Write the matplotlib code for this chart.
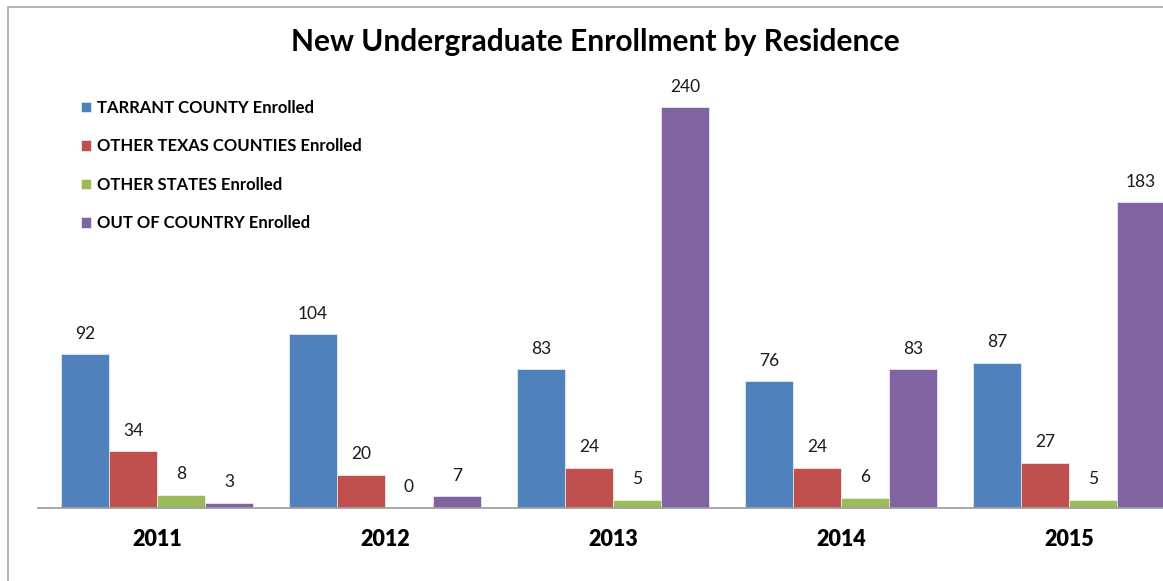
import numpy as np
import matplotlib.pyplot as plt
from matplotlib.patches import Rectangle

plt.rcParams["font.family"] = ["Lato", "DejaVu Sans"]

years = ["2011", "2012", "2013", "2014", "2015"]
tarrant = [92, 104, 83, 76, 87]
other_texas = [34, 20, 24, 24, 27]
other_states = [8, 0, 5, 6, 5]
out_of_country = [3, 7, 240, 83, 183]

series = [
    ("TARRANT COUNTY Enrolled", tarrant, "#4F81BD"),
    ("OTHER TEXAS COUNTIES Enrolled", other_texas, "#C0504D"),
    ("OTHER STATES Enrolled", other_states, "#9BBB59"),
    ("OUT OF COUNTRY Enrolled", out_of_country, "#8064A2"),
]

W, H = 1163, 581
fig = plt.figure(figsize=(W / 100, H / 100), dpi=100)

# chart border (cropped at right/bottom like the source image)
fig.patches.append(Rectangle((8 / W, -0.05), 1.2, (H - 7) / H + 0.05,
                             transform=fig.transFigure, fill=False,
                             edgecolor="#A6A6A6", linewidth=1.2))

# axes: baseline at y=508px, one category = 228px, 2011 centered at x=157px
scale_y = 401 / 240
ymax = 260
left_px = 38
xmin = (left_px - 157) / 228
xmax = 4.5
ax = fig.add_axes([left_px / W, (H - 508) / H,
                   (xmax - xmin) * 228 / W, ymax * scale_y / H])
ax.set_xlim(xmin, xmax)
ax.set_ylim(0, ymax)

x = np.arange(len(years))
width = 48 / 228
handles = []
for i, (name, vals, color) in enumerate(series):
    bars = ax.bar(x + (i - 1.5) * width, vals, width, color=color,
                  edgecolor="white", linewidth=0.4, label=name)
    ax.bar_label(bars, padding=9, fontsize=12.5, color="#1a1a1a")
    handles.append(bars)

for s in ["top", "right", "left"]:
    ax.spines[s].set_visible(False)
ax.spines["bottom"].set_color("#A0A0A0")
ax.spines["bottom"].set_linewidth(1.3)
ax.set_yticks([])
ax.set_xticks(x)
ax.set_xticklabels(years, fontsize=15.5, fontweight="heavy")
ax.tick_params(axis="x", length=0, pad=15)

fig.text(595 / W, 1 - 42 / H, "New Undergraduate Enrollment by Residence",
         ha="center", va="center", fontsize=21.5, fontweight="bold")

fig.legend(handles=handles, loc="upper left",
           bbox_to_anchor=(66 / W, 1 - 85 / H), frameon=False,
           prop={"weight": "bold", "size": 12},
           handlelength=0.6, handleheight=0.6, handletextpad=0.35,
           labelspacing=1.35)

fig.savefig("out.png", dpi=100)
